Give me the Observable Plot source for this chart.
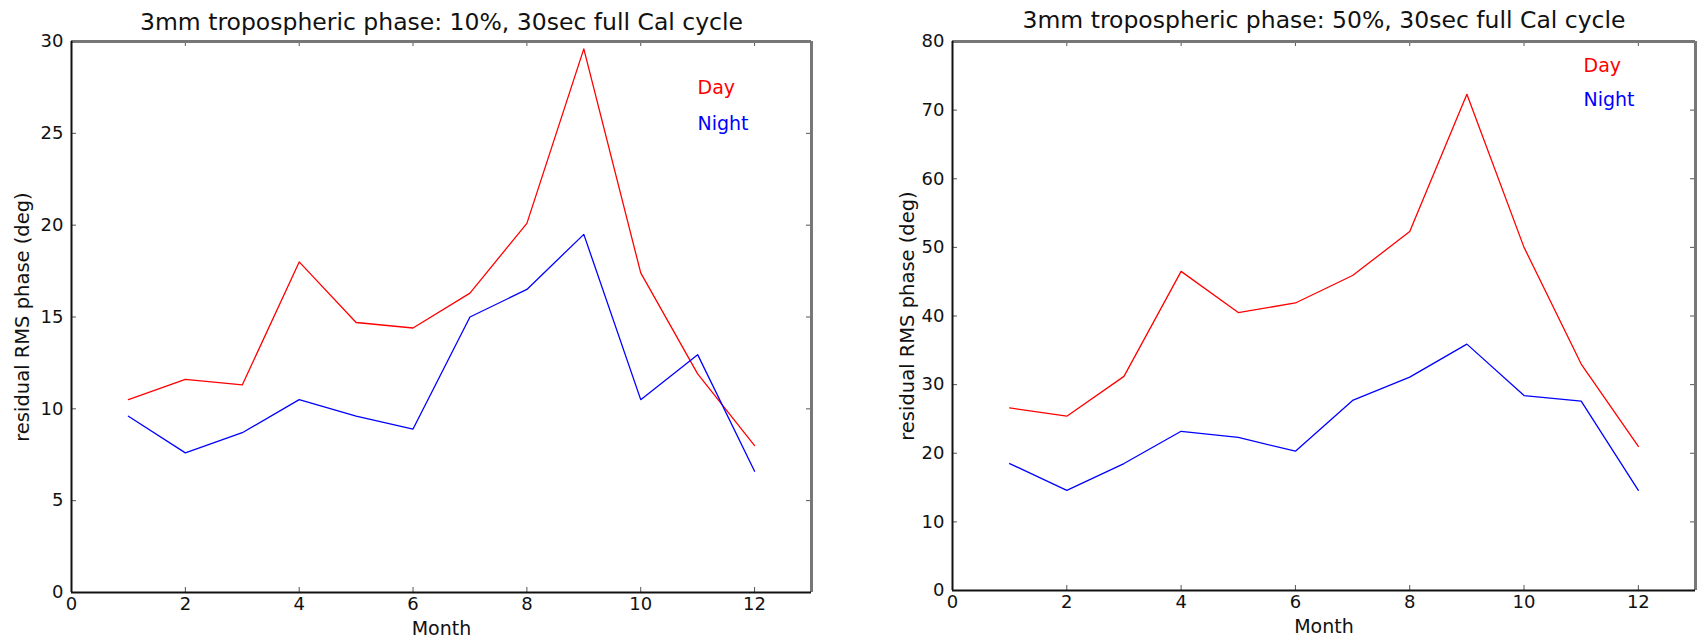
<!DOCTYPE html>
<html>
<head>
<meta charset="utf-8">
<script src="https://cdn.jsdelivr.net/npm/d3@7"></script>
<script src="https://cdn.jsdelivr.net/npm/@observablehq/plot@0.6"></script>
<style>
  html, body { margin: 0; padding: 0; background: #fff; }
  #wrap { display: flex; width: 1697px; height: 638px; overflow: hidden; }
  #wrap svg { display: block; }
</style>
</head>
<body>
<div id="wrap"></div>
<script>
const months = [1, 2, 3, 4, 5, 6, 7, 8, 9, 10, 11, 12];
const xTicks = [0, 2, 4, 6, 8, 10, 12];
const xDomain = [0, 13];

const leftTitle = "3mm tropospheric phase: 10%, 30sec full Cal cycle";
const leftDay   = [10.5, 11.6, 11.3, 18.0, 14.7, 14.4, 16.3, 20.1, 29.6, 17.4, 11.9, 8.0];
const leftNight = [9.6, 7.6, 8.7, 10.5, 9.6, 8.9, 15.0, 16.5, 19.5, 10.5, 12.95, 6.6];
const leftYTicks = [0, 5, 10, 15, 20, 25, 30];
const leftYDomain = [0, 30];

const rightTitle = "3mm tropospheric phase: 50%, 30sec full Cal cycle";
const rightDay   = [26.6, 25.4, 31.2, 46.5, 40.5, 41.9, 45.9, 52.3, 72.3, 50.0, 33.0, 21.0];
const rightNight = [18.5, 14.6, 18.5, 23.2, 22.3, 20.3, 27.7, 31.1, 35.9, 28.4, 27.6, 14.6];
const rightYTicks = [0, 10, 20, 30, 40, 50, 60, 70, 80];
const rightYDomain = [0, 80];

const yLabel = "residual RMS phase (deg)";
const xLabel = "Month";
const seriesNames = ["Day", "Night"];
const seriesColors = ["#ff0000", "#0000ff"];

const FONT = "DejaVu Sans";

function makeChart(cfg) {
  const H = 638;
  const innerW = cfg.width - cfg.marginLeft - cfg.marginRight;
  const innerH = H - cfg.marginTop - cfg.marginBottom;
  const rows = [];
  months.forEach((m, i) => {
    rows.push({month: m, value: cfg.day[i], series: seriesNames[0]});
    rows.push({month: m, value: cfg.night[i], series: seriesNames[1]});
  });
  const tickLen = 5;
  return Plot.plot({
    width: cfg.width,
    height: H,
    marginTop: cfg.marginTop,
    marginBottom: cfg.marginBottom,
    marginLeft: cfg.marginLeft,
    marginRight: cfg.marginRight,
    style: {fontFamily: FONT, color: "#111", background: "#fff"},
    x: {domain: xDomain, axis: null},
    y: {domain: cfg.yDomain, axis: null},
    color: {domain: seriesNames, range: seriesColors},
    marks: [
      // inward ticks on all four sides
      Plot.tickX(xTicks, {x: d => d, insetTop: innerH - tickLen, stroke: "#555", strokeWidth: 1}),
      Plot.tickX(xTicks, {x: d => d, insetBottom: innerH - tickLen, stroke: "#555", strokeWidth: 1}),
      Plot.tickY(cfg.yTicks, {y: d => d, insetRight: innerW - tickLen, stroke: "#555", strokeWidth: 1}),
      Plot.tickY(cfg.yTicks, {y: d => d, insetLeft: innerW - tickLen, stroke: "#555", strokeWidth: 1}),
      // frame: top/right grey, left/bottom black
      Plot.ruleY([cfg.yDomain[1]], {stroke: "#777", strokeWidth: 3}),
      Plot.ruleX([xDomain[1]], {stroke: "#777", strokeWidth: 3}),
      Plot.ruleX([xDomain[0]], {stroke: "#111", strokeWidth: 2}),
      Plot.ruleY([cfg.yDomain[0]], {stroke: "#111", strokeWidth: 2}),
      // tick labels
      Plot.axisX({ticks: xTicks, tickSize: 0, tickPadding: 5, fontSize: 18, label: null, tickFormat: d => String(d)}),
      Plot.axisY({ticks: cfg.yTicks, tickSize: 0, tickPadding: 8, fontSize: 18, label: null, tickFormat: d => String(d)}),
      // data lines
      Plot.line(rows, {x: "month", y: "value", z: "series", stroke: "series", strokeWidth: 1.3}),
      // legend
      Plot.text([seriesNames[0]], {frameAnchor: "top-left", dx: cfg.legendDx, dy: cfg.legendDy[0], textAnchor: "start", lineAnchor: "middle", fill: seriesColors[0], fontSize: 19}),
      Plot.text([seriesNames[1]], {frameAnchor: "top-left", dx: cfg.legendDx, dy: cfg.legendDy[1], textAnchor: "start", lineAnchor: "middle", fill: seriesColors[1], fontSize: 19}),
      // titles and axis labels
      Plot.text([cfg.title], {frameAnchor: "top", dy: cfg.titleDy, lineAnchor: "middle", fontSize: 23.5, fill: "#111"}),
      Plot.text([xLabel], {frameAnchor: "bottom", dy: 36, lineAnchor: "middle", fontSize: 19, fill: "#111"}),
      Plot.text([yLabel], {frameAnchor: "left", dx: cfg.yLabelDx, rotate: -90, textAnchor: "middle", lineAnchor: "middle", fontSize: 19.5, fill: "#111"})
    ]
  });
}

const wrap = document.getElementById("wrap");
wrap.appendChild(makeChart({
  width: 850, marginLeft: 71, marginRight: 39, marginTop: 41, marginBottom: 46,
  yDomain: leftYDomain, yTicks: leftYTicks, day: leftDay, night: leftNight,
  title: leftTitle, titleDy: -19, yLabelDx: -49, legendDx: 626, legendDy: [46, 82]
}));
wrap.appendChild(makeChart({
  width: 847, marginLeft: 102, marginRight: 2, marginTop: 41, marginBottom: 48,
  yDomain: rightYDomain, yTicks: rightYTicks, day: rightDay, night: rightNight,
  title: rightTitle, titleDy: -21, yLabelDx: -45, legendDx: 631, legendDy: [24, 58]
}));
</script>
</body>
</html>
